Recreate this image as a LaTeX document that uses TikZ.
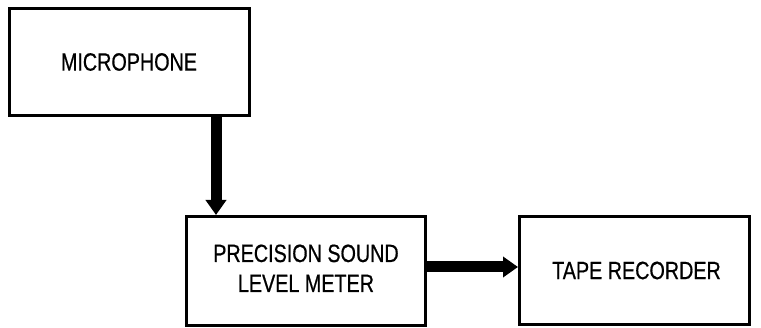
\documentclass[tikz,border=0pt]{standalone}
\usepackage{fontspec}
\newfontfamily\condsans[FakeStretch=0.79,FakeBold=0.6]{Liberation Sans}
\usetikzlibrary{arrows.meta}
\begin{document}
\begin{tikzpicture}[x=1pt,y=-1pt,
  blockbox/.style={draw=black,line width=3pt,inner sep=0pt,align=center,
    font=\condsans\fontsize{25}{30}\selectfont},
  flowarrow/.style={line width=11pt,-{Triangle[width=20pt,length=15pt]}}]
\useasboundingbox (0,0) rectangle (761,328);
\node[blockbox,minimum width=240pt,minimum height=107pt] (mic) at (129,62) {MICROPHONE};
\node[blockbox,minimum width=239pt,minimum height=109pt] (pslm) at (306,271) {\raisebox{3pt}{\begin{tabular}{@{}c@{}}PRECISION SOUND\\LEVEL METER\end{tabular}}};
\node[blockbox,minimum width=230pt,minimum height=108pt] (tape) at (634.5,270.5) {\hspace*{4pt}TAPE RECORDER};
\coordinate (ax) at (216,0);
\coordinate (ay) at (0,267);
\draw[flowarrow] (mic.south -| ax) -- (pslm.north -| ax);
\draw[flowarrow] (pslm.east |- ay) -- (tape.west |- ay);
\end{tikzpicture}
\end{document}
